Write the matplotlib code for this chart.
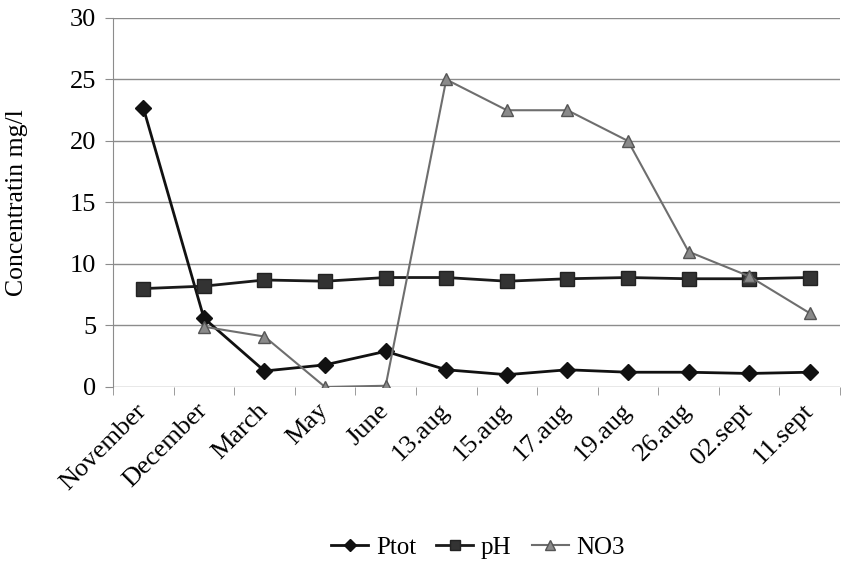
import matplotlib.pyplot as plt
import matplotlib.transforms as mtransforms
import numpy as np

# data
dates = ["November", "December", "March", "May", "June", "13.aug", "15.aug",
         "17.aug", "19.aug", "26.aug", "02.sept", "11.sept"]
ptot = [22.7, 5.6, 1.3, 1.8, 2.9, 1.4, 1.0, 1.4, 1.2, 1.2, 1.1, 1.2]
ph = [8.0, 8.2, 8.7, 8.6, 8.9, 8.9, 8.6, 8.8, 8.9, 8.8, 8.8, 8.9]
no3 = [np.nan, 4.9, 4.1, 0.0, 0.1, 25.0, 22.5, 22.5, 20.0, 11.0, 9.0, 6.0]

plt.rcParams["font.family"] = ["Liberation Serif", "DejaVu Serif"]

fig = plt.figure(figsize=(8.46, 5.62), dpi=100)
ax = fig.add_axes([0.1336, 0.3114, 0.8594, 0.6566])

x = np.arange(len(dates))

ax.plot(x, ptot, color="#111111", lw=2, marker="D", ms=8,
        mfc="#111111", mec="#111111", label="Ptot", zorder=3)
ax.plot(x, ph, color="#1a1a1a", lw=2, marker="s", ms=10,
        mfc="#333333", mec="#222222", label="pH", zorder=3)
ax.plot(x, no3, color="#6e6e6e", lw=1.5, marker="^", ms=9,
        mfc="#8a8a8a", mec="#555555", label="NO3", zorder=4)

ax.set_xlim(-0.5, len(dates) - 0.5)
ax.set_ylim(0, 30)
ax.set_yticks(range(0, 31, 5))
ax.yaxis.grid(True, color="#8c8c8c", lw=1)
ax.set_axisbelow(True)

for s in ["top", "right", "bottom"]:
    ax.spines[s].set_visible(False)
ax.spines["left"].set_color("#8c8c8c")

ax.set_xticks(x)
ax.set_xticklabels(dates, rotation=45, ha="right", rotation_mode="anchor",
                   fontsize=19)
ax.set_xticks(np.arange(-0.5, len(dates)), minor=True)
ax.tick_params(axis="x", which="major", length=0, pad=9)
ax.tick_params(axis="x", which="minor", length=6, color="#8c8c8c")
ax.tick_params(axis="y", length=6, color="#8c8c8c", labelsize=19, pad=6)

# nudge the rotated date labels a bit to the left
shift = mtransforms.ScaledTranslation(-8 / 100, 0, fig.dpi_scale_trans)
for lab in ax.get_xticklabels():
    lab.set_transform(lab.get_transform() + shift)

ax.set_ylabel("Concentratin mg/l", fontsize=18.5, labelpad=30)

fig.legend(loc="lower center", bbox_to_anchor=(0.565, -0.035), ncol=3,
           frameon=False, fontsize=18, handlelength=1.5, handletextpad=0.3,
           columnspacing=0.8, markerscale=0.75)

fig.savefig("out.png", dpi=100)
